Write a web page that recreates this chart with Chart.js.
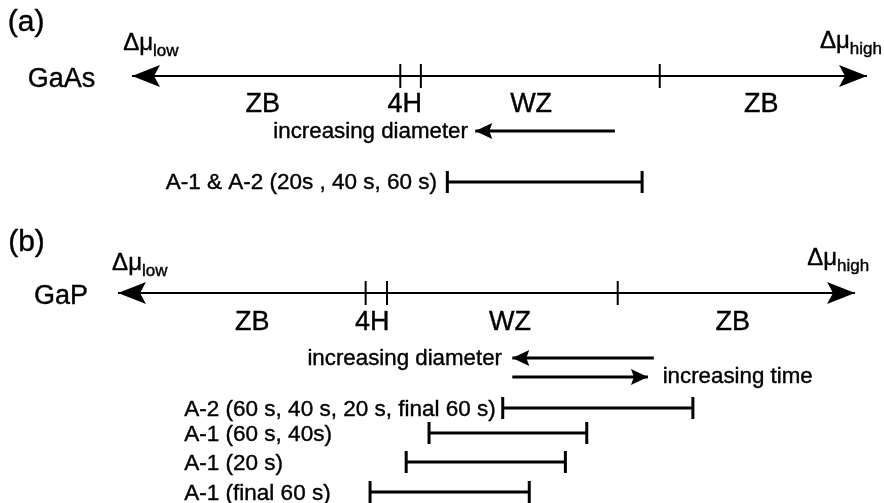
<!DOCTYPE html>
<html>
<head>
<meta charset="utf-8">
<script src="https://cdn.jsdelivr.net/npm/chart.js@4.4.1/dist/chart.umd.min.js"></script>
<style>
  html, body { margin: 0; padding: 0; background: #fff; }
  #wrap { width: 884px; height: 503px; }
</style>
</head>
<body>
<div id="wrap"><canvas id="chart" width="884" height="503"></canvas></div>
<script>
// Δμ runs in arbitrary units: 0 = tip of the low arrow, 100 = tip of the high arrow

// (a) GaAs
const boundsA = [36.5, 39.3, 71.8];
const phasesA = ['ZB', '4H', 'WZ', 'ZB'];
const phasePosA = [17.8, 37.1, 54.3, 85.6];
const diameterA = [65.7, 46.7];          // tail -> head
const samplesA = ['A-1 & A-2 (20s , 40 s, 60 s)'];
const rangesA = [[42.9, 69.4]];

// (b) GaP
const boundsB = [33.6, 36.5, 67.8];
const phasesB = ['ZB', '4H', 'WZ', 'ZB'];
const phasePosB = [18.2, 34.5, 53.2, 83.4];
const diameterB = [72.7, 53.5];
const timeB = [53.5, 71.9];
const samplesB = ['A-2 (60 s, 40 s, 20 s, final 60 s)', 'A-1 (60 s, 40s)', 'A-1 (20 s)', 'A-1 (final 60 s)'];
const rangesB = [[52.2, 78.0], [42.2, 63.6], [39.1, 60.7], [34.2, 55.8]];

// vertical layout of each panel (rows, top = 0)
const rowsA = { title: 20, axis: 76, phase: 102, arrow: 131, samples: [182] };
const rowsB = { title: 240, axis: 293, phase: 320, arrow: 358, arrow2: 377, samples: [408, 433, 462, 492] };

const FONT = '"Liberation Sans", Arial, Helvetica, sans-serif';
const black = '#000';

function lineSet(axis, x0, x1, y, width, extra) {
  return Object.assign({
    xAxisID: axis, yAxisID: 'y',
    data: [{ x: x0, y: y }, { x: x1, y: y }],
    borderColor: black, borderWidth: width, borderCapStyle: 'butt',
    pointRadius: 0, fill: false, clip: false
  }, extra || {});
}

function tickSet(axis, bounds, y) {
  return {
    xAxisID: axis, yAxisID: 'y', showLine: false,
    data: bounds.map(b => ({ x: b, y: y })),
    pointStyle: 'line', pointRotation: 90, pointRadius: 12,
    pointBorderWidth: 2, pointBorderColor: black, borderColor: black, clip: false
  };
}

function rangeSet(axis, r, y) {
  return lineSet(axis, r[0], r[1], y, 3, {
    pointStyle: 'line', pointRotation: 90, pointRadius: 11,
    pointBorderWidth: 3, pointBorderColor: black
  });
}

const datasets = [
  lineSet('xa', 0, 100, rowsA.axis, 2, { arrow: 'both', headLen: 28, headHalf: 11, notch: 6 }),
  tickSet('xa', boundsA, rowsA.axis),
  lineSet('xa', diameterA[0], diameterA[1], rowsA.arrow, 3, { arrow: 'end', headLen: 17, headHalf: 8, notch: 3 }),
  ...rangesA.map((r, i) => rangeSet('xa', r, rowsA.samples[i])),

  lineSet('xb', 0, 100, rowsB.axis, 2, { arrow: 'both', headLen: 28, headHalf: 11, notch: 6 }),
  tickSet('xb', boundsB, rowsB.axis),
  lineSet('xb', diameterB[0], diameterB[1], rowsB.arrow, 3, { arrow: 'end', headLen: 17, headHalf: 8, notch: 3 }),
  lineSet('xb', timeB[0], timeB[1], rowsB.arrow2, 3, { arrow: 'end', headLen: 17, headHalf: 8, notch: 3 }),
  ...rangesB.map((r, i) => rangeSet('xb', r, rowsB.samples[i]))
];

function drawHead(ctx, tip, from, ds) {
  const ang = Math.atan2(tip.y - from.y, tip.x - from.x);
  ctx.save();
  ctx.translate(tip.x, tip.y);
  ctx.rotate(ang);
  ctx.beginPath();
  ctx.moveTo(0, 0);
  ctx.lineTo(-ds.headLen, -ds.headHalf);
  ctx.lineTo(-ds.headLen + ds.notch, 0);
  ctx.lineTo(-ds.headLen, ds.headHalf);
  ctx.closePath();
  ctx.fillStyle = black;
  ctx.fill();
  ctx.restore();
}

// arrow heads on flagged datasets
const arrowPlugin = {
  id: 'arrowheads',
  afterDatasetsDraw(chart) {
    const ctx = chart.ctx;
    chart.data.datasets.forEach((ds, i) => {
      if (!ds.arrow) return;
      const pts = chart.getDatasetMeta(i).data;
      const a = pts[0], b = pts[pts.length - 1];
      drawHead(ctx, b, a, ds);
      if (ds.arrow === 'both') drawHead(ctx, a, b, ds);
    });
  }
};

// text centred on the cap height of a row, with a hairline stroke to match the heavier print
function label(ctx, s, px, cy, size, align) {
  ctx.font = size + 'px ' + FONT;
  ctx.textAlign = align || 'center';
  ctx.textBaseline = 'alphabetic';
  const by = cy + size * 0.358;
  ctx.fillText(s, px, by);
  ctx.strokeText(s, px, by);
}

function deltaMu(ctx, sub, px, base) {
  ctx.textAlign = 'left';
  ctx.textBaseline = 'alphabetic';
  ctx.font = '24px ' + FONT;
  ctx.fillText('Δμ', px, base);
  ctx.strokeText('Δμ', px, base);
  const w = ctx.measureText('Δμ').width;
  ctx.font = '17px ' + FONT;
  ctx.fillText(sub, px + w, base + 6);
  ctx.strokeText(sub, px + w, base + 6);
}

const textPlugin = {
  id: 'texts',
  afterDraw(chart) {
    const ctx = chart.ctx;
    const xa = v => chart.scales.xa.getPixelForValue(v);
    const xb = v => chart.scales.xb.getPixelForValue(v);
    const y = v => chart.scales.y.getPixelForValue(v);
    ctx.save();
    ctx.fillStyle = black;
    ctx.strokeStyle = black;
    ctx.lineWidth = 0.4;

    // panel (a)
    label(ctx, '(a)', xa(-16.9), y(rowsA.title), 30, 'left');
    label(ctx, 'GaAs', xa(-14.2), y(rowsA.axis + 1), 27, 'left');
    deltaMu(ctx, 'low', xa(-1.2), y(50));
    deltaMu(ctx, 'high', xa(93.6), y(48));
    phasesA.forEach((p, i) => label(ctx, p, xa(phasePosA[i]), y(rowsA.phase), 27));
    label(ctx, 'increasing diameter', xa(diameterA[1] - 1.0), y(rowsA.arrow - 1), 22.3, 'right');
    samplesA.forEach((s, i) => label(ctx, s, xa(rangesA[i][0] - 1.4), y(rowsA.samples[i] - 1), 22.5, 'right'));

    // panel (b)
    label(ctx, '(b)', xb(-14.9), y(rowsB.title), 30, 'left');
    label(ctx, 'GaP', xb(-11.4), y(rowsB.axis + 1), 27, 'left');
    deltaMu(ctx, 'low', xb(-0.8), y(270));
    deltaMu(ctx, 'high', xb(93.5), y(265));
    phasesB.forEach((p, i) => label(ctx, p, xb(phasePosB[i]), y(rowsB.phase), 27));
    label(ctx, 'increasing diameter', xb(diameterB[1] - 1.4), y(rowsB.arrow - 1), 22.3, 'right');
    label(ctx, 'increasing time', xb(timeB[1] + 2.0), y(rowsB.arrow2 - 2), 22.3, 'left');
    samplesB.forEach((s, i) => label(ctx, s, xb(9.0), y(rowsB.samples[i]), 22.5, 'left'));

    ctx.restore();
  }
};

new Chart(document.getElementById('chart'), {
  type: 'line',
  data: { datasets: datasets },
  options: {
    responsive: false,
    animation: false,
    events: [],
    layout: { padding: 0, autoPadding: false },
    scales: {
      xa: { type: 'linear', min: -17.96, max: 102.31, display: false },
      xb: { type: 'linear', min: -16.01, max: 103.93, display: false },
      y: { type: 'linear', min: 0, max: 503, reverse: true, display: false }
    },
    plugins: {
      legend: { display: false },
      tooltip: { enabled: false }
    }
  },
  plugins: [arrowPlugin, textPlugin]
});
</script>
</body>
</html>
